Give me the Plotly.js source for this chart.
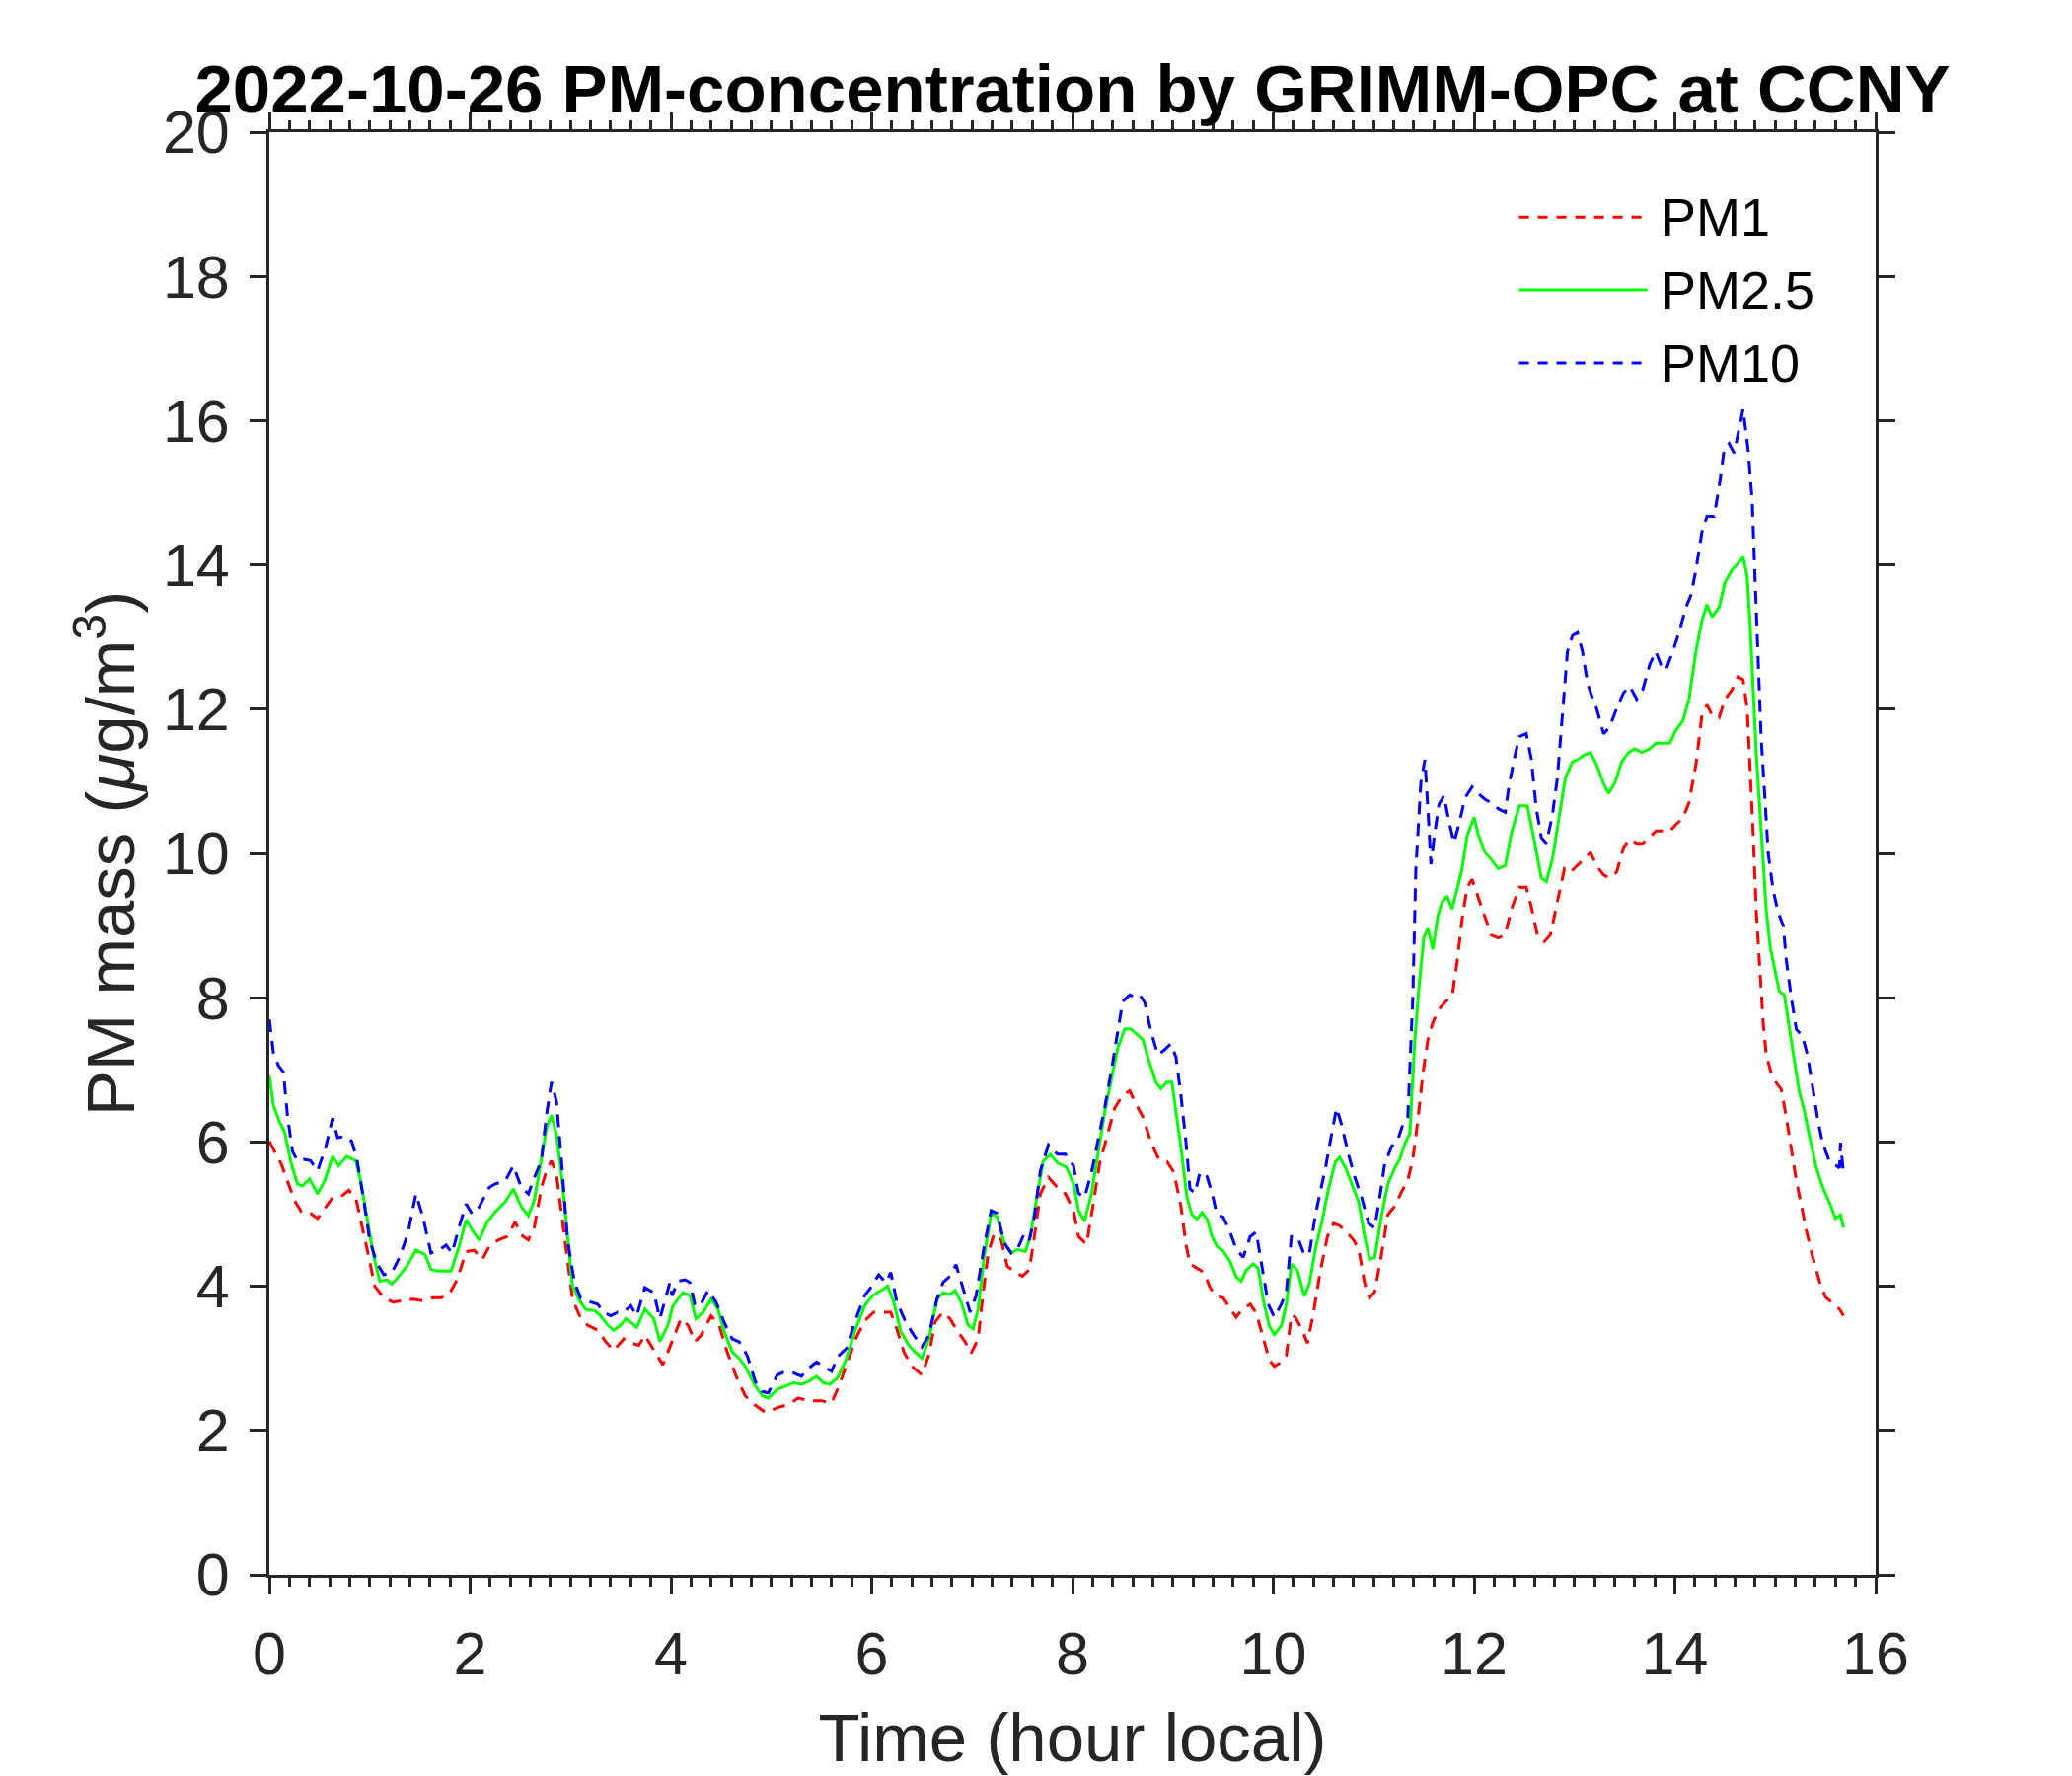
<!DOCTYPE html>
<html>
<head>
<meta charset="utf-8">
<script src="https://cdn.plot.ly/plotly-3.0.1.min.js"></script>
<style>html,body{margin:0;padding:0;background:#fff;}#chart{width:2100px;height:1800px;}</style>
</head>
<body>
<div id="chart"></div>
<script>
// ---- data (hour local, µg/m3) ----
const seriesNames = ["PM1", "PM2.5", "PM10"];
const xTickVals = [0, 2, 4, 6, 8, 10, 12, 14, 16];
const yTickVals = [0, 2, 4, 6, 8, 10, 12, 14, 16, 18, 20];

const tPM1 = [0,0.05,0.12,0.18,0.25,0.32,0.41,0.48,0.56,0.63,0.73,0.79,0.86,0.92,0.99,1.05,1.14,1.23,1.33,1.43,1.53,1.63,1.71,1.79,1.87,1.96,2.04,2.12,2.19,2.28,2.37,2.45,2.51,2.58,2.64,2.71,2.76,2.81,2.86,2.91,2.96,3.02,3.09,3.17,3.27,3.35,3.43,3.53,3.61,3.68,3.74,3.84,3.92,4.01,
4.10,4.17,4.24,4.30,4.40,4.48,4.56,4.65,4.74,4.83,4.94,5.07,5.17,5.27,5.37,5.50,5.60,5.68,5.76,5.84,5.93,6.02,6.11,6.19,6.25,6.32,6.40,6.50,6.57,6.63,6.71,6.78,6.84,6.93,6.99,7.06,7.11,7.16,7.22,7.29,7.35,7.43,7.50,7.57,7.62,7.68,7.76,7.85,7.93,8.01,
8.06,8.14,8.21,8.27,8.34,8.42,8.50,8.57,8.63,8.70,8.78,8.86,8.94,9.01,9.08,9.13,9.17,9.24,9.31,9.37,9.44,9.50,9.57,9.63,9.70,9.77,9.83,9.90,9.96,10.01,10.08,10.13,10.18,10.22,10.29,10.34,10.40,10.47,10.54,10.60,10.66,10.73,10.80,10.85,10.91,10.96,11.01,11.08,11.14,11.21,11.27,11.34,11.39,11.44,11.49,11.54,11.59,11.65,11.72,11.78,11.83,11.88,11.93,11.98,
12.04,12.11,12.17,12.24,12.31,12.37,12.45,12.52,12.57,12.63,12.70,12.76,12.83,12.90,12.96,13.03,13.09,13.16,13.22,13.29,13.35,13.42,13.49,13.55,13.62,13.68,13.75,13.81,13.88,13.95,14.01,14.08,14.14,14.21,14.27,14.32,14.37,14.44,14.50,14.57,14.63,14.68,14.72,14.75,14.78,14.81,14.85,14.88,14.91,14.96,15.01,15.06,15.11,15.16,15.21,15.26,15.31,15.37,15.44,15.50,15.57,15.64,15.68];
const pm1 = [6.01,5.87,5.69,5.46,5.19,5.03,5.01,4.94,5.10,5.23,5.26,5.33,5.23,4.87,4.41,4.00,3.84,3.78,3.80,3.82,3.80,3.84,3.84,3.89,4.09,4.48,4.50,4.37,4.55,4.64,4.69,4.89,4.71,4.64,4.82,5.37,5.60,5.74,5.55,5.00,4.41,3.82,3.59,3.46,3.39,3.23,3.11,3.27,3.21,3.18,3.32,3.09,2.91,3.23,
3.55,3.46,3.23,3.32,3.59,3.46,3.09,2.75,2.48,2.36,2.25,2.32,2.36,2.45,2.41,2.41,2.38,2.64,2.95,3.27,3.52,3.64,3.64,3.64,3.41,3.09,2.89,2.77,3.05,3.50,3.64,3.55,3.41,3.23,3.07,3.27,3.91,4.46,4.73,4.64,4.28,4.19,4.14,4.23,4.69,5.28,5.51,5.37,5.28,5.05,
4.69,4.58,5.17,5.70,6.06,6.47,6.65,6.71,6.53,6.35,6.00,5.76,5.73,5.58,5.11,4.58,4.31,4.25,4.19,3.98,3.86,3.84,3.69,3.57,3.69,3.75,3.63,3.27,2.98,2.89,2.95,3.04,3.60,3.57,3.39,3.21,3.63,4.22,4.69,4.87,4.84,4.75,4.64,4.52,4.04,3.84,3.92,4.46,4.99,5.11,5.29,5.47,5.76,6.30,6.95,7.42,7.66,7.84,7.95,8.01,8.49,9.08,9.53,9.64,
9.39,9.13,8.87,8.83,8.87,9.22,9.53,9.53,9.26,8.87,8.78,8.87,9.31,9.79,9.74,9.83,9.92,10.01,9.83,9.70,9.66,9.74,10.09,10.20,10.14,10.14,10.22,10.31,10.31,10.31,10.40,10.49,10.70,11.23,11.92,12.06,11.92,11.88,12.14,12.27,12.45,12.41,12.01,11.23,10.27,9.22,8.35,7.65,7.21,6.95,6.82,6.73,6.34,5.90,5.46,5.12,4.77,4.42,4.07,3.85,3.77,3.68,3.59];

const tPM25 = [0,0.04,0.10,0.15,0.22,0.28,0.33,0.40,0.48,0.55,0.63,0.69,0.77,0.86,0.91,0.97,1.04,1.10,1.17,1.22,1.28,1.37,1.46,1.55,1.61,1.69,1.81,1.89,1.96,2.02,2.09,2.17,2.25,2.35,2.43,2.51,2.58,2.64,2.71,2.76,2.81,2.86,2.91,2.96,3.02,3.09,3.15,3.24,3.30,3.37,3.43,3.50,3.55,3.60,3.66,3.74,3.83,3.89,3.97,
4.02,4.12,4.19,4.25,4.32,4.40,4.47,4.53,4.61,4.68,4.74,4.83,4.91,4.97,5.06,5.14,5.22,5.30,5.37,5.45,5.52,5.58,5.66,5.75,5.83,5.93,6.01,6.09,6.16,6.22,6.29,6.37,6.43,6.50,6.57,6.65,6.71,6.78,6.83,6.89,6.96,7.01,7.06,7.12,7.19,7.25,7.32,7.39,7.45,7.53,7.58,7.65,7.71,7.78,7.85,7.94,8.01,
8.06,8.12,8.19,8.26,8.32,8.39,8.45,8.52,8.58,8.65,8.70,8.76,8.83,8.88,8.94,8.99,9.04,9.09,9.14,9.19,9.24,9.29,9.34,9.39,9.44,9.50,9.57,9.63,9.68,9.73,9.80,9.85,9.90,9.96,10.01,10.08,10.13,10.18,10.24,10.31,10.36,10.42,10.49,10.55,10.62,10.66,10.72,10.78,10.85,10.91,10.96,11.01,11.08,11.14,11.21,11.26,11.31,11.36,11.41,11.45,11.50,11.54,11.59,11.64,11.68,11.73,11.78,11.83,11.88,11.93,12.00,
12.04,12.11,12.17,12.24,12.31,12.37,12.45,12.53,12.60,12.67,12.72,12.78,12.85,12.91,12.98,13.04,13.09,13.16,13.22,13.29,13.34,13.40,13.47,13.54,13.60,13.67,13.75,13.81,13.88,13.95,14.01,14.08,14.14,14.21,14.27,14.32,14.37,14.44,14.50,14.57,14.63,14.68,14.72,14.75,14.78,14.81,14.85,14.88,14.91,14.95,15.00,15.04,15.09,15.14,15.19,15.24,15.29,15.34,15.41,15.47,15.54,15.60,15.65,15.68];
const pm25 = [6.92,6.51,6.28,6.15,5.69,5.42,5.39,5.49,5.28,5.46,5.80,5.67,5.80,5.74,5.46,5.00,4.41,4.07,4.09,4.03,4.12,4.28,4.50,4.44,4.23,4.21,4.21,4.55,4.92,4.78,4.64,4.89,5.03,5.17,5.35,5.10,4.98,5.19,5.78,6.19,6.37,6.10,5.55,4.82,4.00,3.80,3.68,3.66,3.59,3.46,3.39,3.46,3.55,3.50,3.43,3.68,3.55,3.23,3.46,
3.73,3.91,3.87,3.55,3.64,3.82,3.68,3.37,3.09,3.00,2.89,2.64,2.48,2.45,2.57,2.61,2.66,2.64,2.68,2.75,2.66,2.64,2.73,3.00,3.37,3.73,3.87,3.94,4.00,3.78,3.37,3.18,3.09,3.00,3.27,3.82,3.91,3.89,3.94,3.78,3.46,3.41,3.68,4.41,5.01,4.96,4.60,4.46,4.51,4.48,4.69,5.28,5.74,5.83,5.71,5.65,5.42,
5.05,4.90,5.29,5.88,6.41,6.89,7.30,7.57,7.57,7.48,7.42,7.13,6.83,6.74,6.83,6.83,6.35,5.82,5.23,4.99,4.93,5.02,4.93,4.69,4.55,4.49,4.34,4.13,4.07,4.22,4.31,4.25,3.81,3.45,3.33,3.45,3.75,4.31,4.22,3.86,4.04,4.52,4.93,5.35,5.73,5.79,5.64,5.41,5.17,4.69,4.37,4.40,4.99,5.41,5.64,5.76,5.97,6.12,7.42,8.13,8.84,8.96,8.67,9.14,9.32,9.41,9.23,9.50,9.79,10.24,10.50,
10.27,10.01,9.92,9.79,9.83,10.27,10.66,10.66,10.18,9.66,9.61,9.92,10.53,11.05,11.27,11.31,11.36,11.40,11.23,10.97,10.83,10.97,11.27,11.40,11.45,11.40,11.45,11.53,11.53,11.53,11.71,11.84,12.14,12.80,13.23,13.45,13.28,13.41,13.76,13.93,14.02,14.11,13.84,13.15,12.27,11.40,10.53,9.83,9.22,8.70,8.35,8.09,8.04,7.56,7.13,6.69,6.43,6.08,5.64,5.38,5.16,4.94,4.99,4.81];

const tPM10 = [0,0.04,0.09,0.14,0.18,0.23,0.28,0.35,0.41,0.48,0.56,0.63,0.68,0.76,0.82,0.87,0.94,1.00,1.07,1.14,1.22,1.30,1.38,1.46,1.53,1.61,1.69,1.76,1.82,1.89,1.96,2.02,2.09,2.19,2.25,2.35,2.43,2.51,2.58,2.64,2.71,2.76,2.81,2.86,2.91,2.97,3.04,3.10,3.20,3.27,3.33,3.40,3.47,3.53,3.60,3.66,3.74,3.83,3.89,3.99,
4.01,4.07,4.14,4.19,4.24,4.29,4.37,4.45,4.53,4.61,4.68,4.76,4.84,4.91,4.97,5.06,5.14,5.22,5.30,5.37,5.45,5.52,5.60,5.66,5.75,5.83,5.93,5.99,6.07,6.14,6.19,6.25,6.34,6.42,6.50,6.57,6.65,6.71,6.78,6.84,6.91,6.98,7.04,7.12,7.19,7.25,7.32,7.39,7.45,7.52,7.57,7.62,7.68,7.76,7.85,7.93,
8.01,8.06,8.12,8.19,8.26,8.32,8.39,8.45,8.50,8.57,8.62,8.67,8.72,8.78,8.85,8.91,8.98,9.03,9.08,9.13,9.17,9.22,9.27,9.34,9.39,9.44,9.50,9.57,9.63,9.70,9.77,9.83,9.88,9.95,10.01,10.08,10.13,10.18,10.24,10.31,10.36,10.42,10.47,10.52,10.59,10.63,10.68,10.75,10.81,10.88,10.95,11.01,11.06,11.11,11.18,11.24,11.29,11.34,11.39,11.42,11.47,11.51,11.54,11.57,11.60,11.65,11.70,11.75,11.80,11.85,11.91,11.98,
12.04,12.11,12.17,12.24,12.31,12.35,12.40,12.45,12.52,12.57,12.62,12.67,12.72,12.78,12.83,12.88,12.93,12.98,13.03,13.08,13.13,13.17,13.22,13.29,13.35,13.42,13.49,13.55,13.62,13.68,13.75,13.81,13.86,13.91,13.98,14.04,14.11,14.16,14.21,14.27,14.32,14.39,14.44,14.49,14.54,14.59,14.63,14.68,14.73,14.77,14.80,14.83,14.86,14.90,14.93,14.98,15.03,15.08,15.11,15.16,15.21,15.27,15.32,15.37,15.42,15.47,15.54,15.59,15.64,15.65,15.68];
const pm10 = [7.70,7.24,7.06,6.97,6.37,5.87,5.74,5.76,5.74,5.60,5.92,6.33,6.06,6.08,6.01,5.78,5.19,4.64,4.32,4.16,4.19,4.41,4.73,5.28,4.96,4.46,4.50,4.57,4.46,4.82,5.14,5.00,5.10,5.37,5.42,5.46,5.67,5.37,5.28,5.51,5.74,6.37,6.83,6.56,5.74,4.64,4.05,3.84,3.78,3.75,3.64,3.59,3.64,3.64,3.73,3.59,3.98,3.91,3.55,4.05,
3.87,4.07,4.09,4.05,3.73,3.73,3.94,3.78,3.50,3.27,3.23,3.04,2.68,2.54,2.52,2.77,2.82,2.80,2.75,2.86,2.95,2.89,2.82,3.02,3.14,3.50,3.87,3.98,4.16,4.05,4.19,3.78,3.50,3.32,3.16,3.32,3.82,4.05,4.14,4.30,3.98,3.64,3.87,4.55,5.05,5.01,4.60,4.46,4.51,4.73,4.64,4.96,5.60,5.96,5.83,5.83,
5.67,5.29,5.23,5.58,6.06,6.47,7.01,7.54,7.95,8.04,8.01,8.04,7.93,7.54,7.21,7.27,7.36,7.18,6.65,6.00,5.35,5.29,5.58,5.52,5.29,4.99,4.96,4.75,4.52,4.40,4.69,4.75,4.34,3.75,3.57,3.75,3.92,4.69,4.69,4.43,4.46,4.99,5.32,5.64,6.18,6.47,6.24,5.82,5.52,5.23,4.87,4.81,5.23,5.70,5.94,6.03,6.24,6.35,8.01,9.79,10.98,11.30,10.62,9.85,10.20,10.68,10.80,10.44,10.15,10.41,10.77,10.92,
10.83,10.75,10.70,10.62,10.57,10.96,11.31,11.62,11.66,11.31,10.62,10.22,10.14,10.53,11.05,11.92,12.80,13.02,13.06,12.80,12.36,12.19,12.01,11.66,11.75,12.01,12.23,12.32,12.14,12.27,12.62,12.80,12.62,12.54,12.80,13.06,13.41,13.58,13.93,14.46,14.67,14.67,15.07,15.59,15.68,15.55,15.81,16.16,15.59,14.89,13.76,12.71,11.58,10.70,10.00,9.48,9.18,9.00,8.52,8.00,7.56,7.47,7.21,6.78,6.34,5.99,5.73,5.69,5.64,5.99,5.55];

// ---- styling ----
const FONT = "Liberation Sans, Arial, Helvetica, sans-serif";
const AX = "#262626";
const colors = ["#ff0000", "#00ff00", "#0000ff"];
const dashes = ["13px,9px", "solid", "13px,9px"];
const xs = [tPM1, tPM25, tPM10];
const ys = [pm1, pm25, pm10];

const traces = seriesNames.map((n, i) => ({
  x: xs[i], y: ys[i], name: n, type: "scatter", mode: "lines",
  line: {color: colors[i], width: 3, dash: dashes[i]},
  showlegend: false
}));

// manual legend (long line samples as in the reference)
const legY = [0.941, 0.8906, 0.840];
const shapes = [];
const annotations = [];
seriesNames.forEach((n, i) => {
  shapes.push({type: "line", xref: "paper", yref: "paper", x0: 0.778, x1: 0.858, y0: legY[i], y1: legY[i],
    line: {color: colors[i], width: 3, dash: dashes[i] === "solid" ? "solid" : "10px,9px"}});
  annotations.push({xref: "paper", yref: "paper", x: 0.865, y: legY[i], xanchor: "left", yanchor: "middle",
    text: n, showarrow: false, font: {family: FONT, size: 54, color: "#000"}});
});

const layout = {
  width: 2100, height: 1800,
  paper_bgcolor: "#fff", plot_bgcolor: "#fff",
  margin: {l: 273, r: 199, t: 134, b: 204, pad: 0},
  font: {family: FONT, color: AX},
  title: {text: "<b>2022-10-26 PM-concentration by GRIMM-OPC at CCNY</b>",
    font: {family: FONT, size: 69, color: "#000"},
    xref: "paper", x: 0.5, xanchor: "center", yref: "container", y: 0.95, yanchor: "middle"},
  xaxis: {
    range: [0, 16], tickvals: xTickVals, ticktext: xTickVals.map(String),
    showgrid: false, zeroline: false,
    showline: true, linecolor: AX, linewidth: 3, mirror: "allticks",
    ticks: "outside", ticklen: 17, tickwidth: 3, tickcolor: AX,
    minor: {dtick: 0.2, ticks: "outside", ticklen: 9, tickwidth: 3, tickcolor: AX, showgrid: false},
    tickfont: {family: FONT, size: 61, color: AX},
    ticklabelstandoff: 8,
    title: {text: "Time (hour local)", font: {family: FONT, size: 69, color: AX}, standoff: 28}
  },
  yaxis: {
    range: [0, 20], tickvals: yTickVals, ticktext: yTickVals.map(String),
    showgrid: false, zeroline: false,
    showline: true, linecolor: AX, linewidth: 3, mirror: "allticks",
    ticks: "outside", ticklen: 17, tickwidth: 3, tickcolor: AX,
    tickfont: {family: FONT, size: 61, color: AX},
    ticklabelstandoff: 8,
    title: {text: "PM mass (<i>μ</i>g/m<sup>3</sup>)", font: {family: FONT, size: 69, color: AX}, standoff: 6}
  },
  shapes: shapes,
  annotations: annotations,
  showlegend: false
};

Plotly.newPlot("chart", traces, layout, {staticPlot: true, displayModeBar: false});
</script>
</body>
</html>
